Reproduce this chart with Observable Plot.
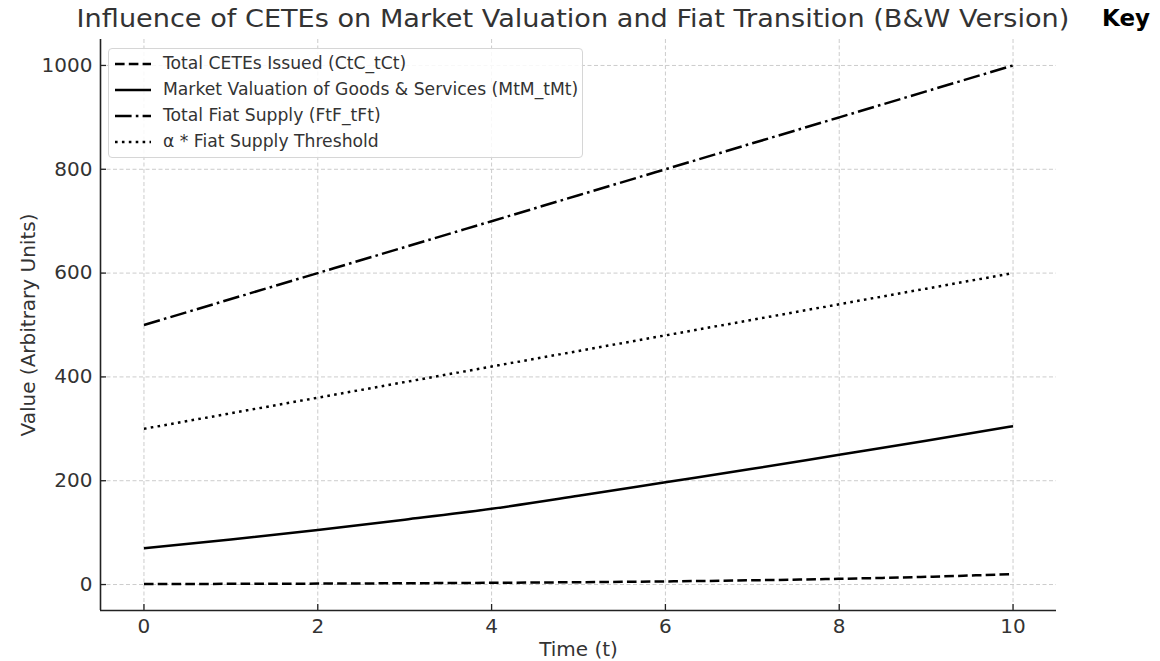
<!DOCTYPE html>
<html>
<head>
<meta charset="utf-8">
<script src="https://cdn.jsdelivr.net/npm/d3@7"></script>
<script src="https://cdn.jsdelivr.net/npm/@observablehq/plot@0.6"></script>
<style>
  html, body { margin: 0; padding: 0; background: #fff; }
  #wrap { position: relative; width: 1160px; height: 661px; overflow: hidden; background: #fff; }
  #title { position: absolute; left: 0; width: 1146px; top: 4px; text-align: center;
           font-family: "DejaVu Sans", sans-serif; font-size: 25px; color: #333; white-space: nowrap;
           transform: scaleX(1.085); transform-origin: 573px 0; }
  #key { position: absolute; left: 1102px; top: 5px; font-family: "DejaVu Sans", sans-serif;
         font-weight: bold; font-size: 23px; color: #000; }
  #legend { position: absolute; left: 108px; top: 48px; width: 475px; height: 110px; box-sizing: border-box;
            border: 1px solid #d6d6d6; border-radius: 4px; background: rgba(255,255,255,0.85);
            font-family: "DejaVu Sans", sans-serif; font-size: 17.2px; color: #333; }
  .row { position: absolute; left: 0; height: 26px; width: 100%; }
  .row svg { position: absolute; left: 5px; top: 0; }
  .row span { position: absolute; left: 54px; top: 2px; white-space: nowrap; }
</style>
</head>
<body>
<div id="wrap">
  <div id="chart"></div>
  <div id="title"></div>
  <div id="key">Key</div>
  <div id="legend"></div>
</div>
<script>
// ---- data ----
const timeSteps = [0, 1, 2, 3, 4, 5, 6, 7, 8, 9, 10];
const ctesIssued = [1, 1.35, 1.8, 2.5, 3.3, 4.5, 6, 8.2, 11, 14.9, 20];
const marketValuation = [70, 87, 105, 125, 146, 171, 197, 223, 250, 277, 305];
const fiatSupply = [500, 550, 600, 650, 700, 750, 800, 850, 900, 950, 1000];
const fiatThreshold = [300, 330, 360, 390, 420, 450, 480, 510, 540, 570, 600];
const seriesNames = [
  "Total CETEs Issued (CtC_tCt)",
  "Market Valuation of Goods & Services (MtM_tMt)",
  "Total Fiat Supply (FtF_tFt)",
  "α * Fiat Supply Threshold"
];
const xTicks = [0, 2, 4, 6, 8, 10];
const yTicks = [0, 200, 400, 600, 800, 1000];
const titleText = "Influence of CETEs on Market Valuation and Fiat Transition (B&W Version)";
const xLabel = "Time (t)";
const yLabel = "Value (Arbitrary Units)";

// ---- styles ----
const dashes = ["9.6,4.2", null, "16.6,4.2,2.6,4.2", "2.6,4.3"];
const seriesValues = [ctesIssued, marketValuation, fiatSupply, fiatThreshold];
const LW = 2.5;

const lineMarks = seriesValues.map((vals, i) => {
  const rows = timeSteps.map((t, j) => ({t, value: vals[j]}));
  return Plot.line(rows, {x: "t", y: "value", stroke: "#000", strokeWidth: LW,
    strokeDasharray: dashes[i] || undefined, strokeLinecap: "butt", curve: "monotone-x"});
});

const gridStyle = {stroke: "#cccccc", strokeOpacity: 1, strokeWidth: 1, strokeDasharray: "4,2.5"};
const fmt = d3.format("d");

const chart = Plot.plot({
  width: 1160, height: 661,
  marginLeft: 100, marginRight: 104, marginTop: 39, marginBottom: 51,
  x: {domain: [-0.5, 10.5]},
  y: {domain: [-50, 1050]},
  style: {fontFamily: "DejaVu Sans, sans-serif", fontSize: "20px", color: "#333", background: "white", overflow: "visible"},
  marks: [
    Plot.gridX(xTicks, gridStyle),
    Plot.gridY(yTicks, gridStyle),
    Plot.axisX({ticks: xTicks, tickSize: 0, tickPadding: 8, label: null, fontSize: 20, tickFormat: fmt}),
    Plot.axisY({ticks: yTicks, tickSize: 0, tickPadding: 8, label: null, fontSize: 20, tickFormat: fmt}),
    Plot.tickX(xTicks, {x: d => d, stroke: "#222", strokeWidth: 1.3, insetTop: 565}),
    Plot.tickY(yTicks, {y: d => d, stroke: "#222", strokeWidth: 1.3, insetRight: 950}),
    ...lineMarks,
    Plot.ruleX([-0.5], {stroke: "#222", strokeWidth: 1.6}),
    Plot.ruleY([-50], {stroke: "#222", strokeWidth: 1.6}),
    Plot.text([xLabel], {frameAnchor: "bottom", dy: 45, fontSize: 20, fill: "#333", textAnchor: "middle"}),
    Plot.text([yLabel], {frameAnchor: "left", dx: -72, rotate: -90, fontSize: 20, fill: "#333", textAnchor: "middle"})
  ]
});
document.getElementById("chart").appendChild(chart);
document.getElementById("title").textContent = titleText;

// ---- legend ----
const legend = document.getElementById("legend");
seriesNames.forEach((name, i) => {
  const row = document.createElement("div");
  row.className = "row";
  row.style.top = (2 + i * 26) + "px";
  const ns = "http://www.w3.org/2000/svg";
  const svg = document.createElementNS(ns, "svg");
  svg.setAttribute("width", "40"); svg.setAttribute("height", "26");
  const ln = document.createElementNS(ns, "line");
  ln.setAttribute("x1", "1"); ln.setAttribute("x2", "37");
  ln.setAttribute("y1", "13"); ln.setAttribute("y2", "13");
  ln.setAttribute("stroke", "#000"); ln.setAttribute("stroke-width", LW);
  if (dashes[i]) ln.setAttribute("stroke-dasharray", dashes[i]);
  svg.appendChild(ln);
  row.appendChild(svg);
  const sp = document.createElement("span");
  sp.textContent = name;
  row.appendChild(sp);
  legend.appendChild(row);
});
</script>
</body>
</html>
